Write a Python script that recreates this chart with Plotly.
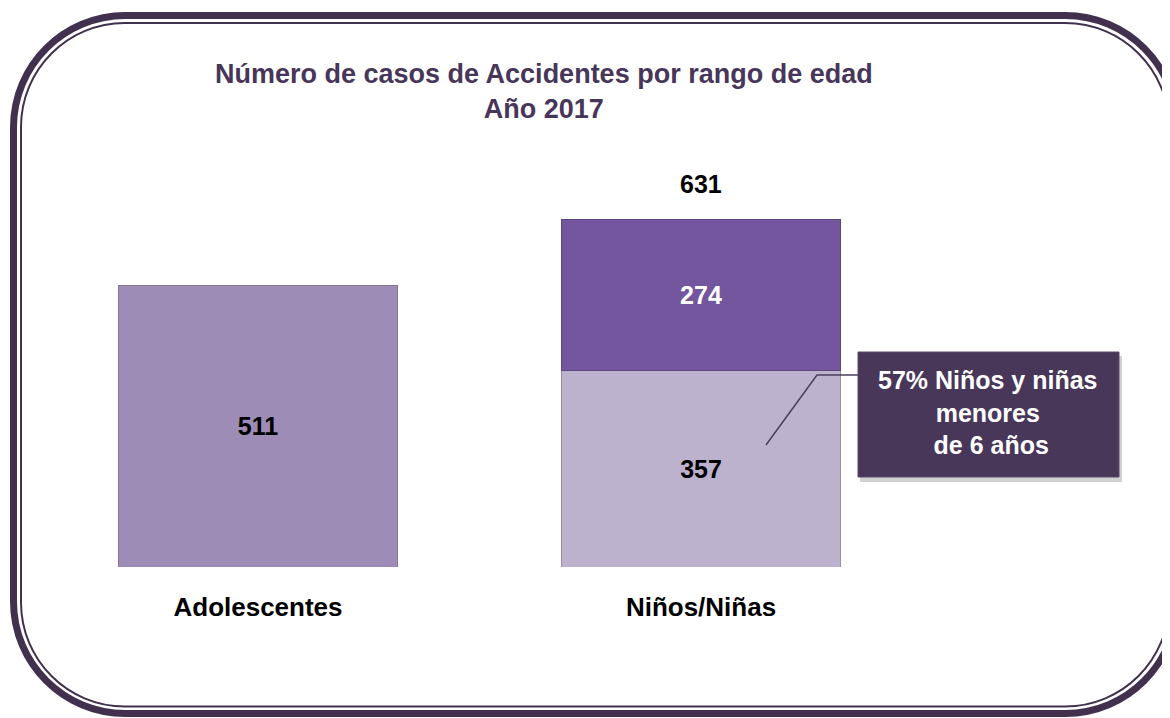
import plotly.graph_objects as go

W, H = 1170, 718
OFF = 8  # page body margin, figure is drawn 8px right/down

# data
categorias = ["Adolescentes", "Niños/Niñas"]
adolescentes = [511, None]
ninos_menores6 = [None, 357]
ninos_resto = [None, 274]
total_ninos = 631

titulo = ["Número de casos de Accidentes por rango de edad", "Año 2017"]
nota = ["57% Niños y niñas", "menores", " de 6 años"]

FONT = "Liberation Sans, Arial, sans-serif"
FRAME = "#41314f"


def px(x):
    return (x - OFF) / W


def py(y):
    return 1 - (y - OFF) / H


def rounded_rect(x0, y0, x1, y1, r):
    # rounded rectangle path in paper coords (pixel input)
    k = 0.5523 * r
    pts = [
        f"M {px(x0 + r)},{py(y0)}",
        f"L {px(x1 - r)},{py(y0)}",
        f"C {px(x1 - r + k)},{py(y0)} {px(x1)},{py(y0 + r - k)} {px(x1)},{py(y0 + r)}",
        f"L {px(x1)},{py(y1 - r)}",
        f"C {px(x1)},{py(y1 - r + k)} {px(x1 - r + k)},{py(y1)} {px(x1 - r)},{py(y1)}",
        f"L {px(x0 + r)},{py(y1)}",
        f"C {px(x0 + r - k)},{py(y1)} {px(x0)},{py(y1 - r + k)} {px(x0)},{py(y1 - r)}",
        f"L {px(x0)},{py(y0 + r)}",
        f"C {px(x0)},{py(y0 + r - k)} {px(x0 + r - k)},{py(y0)} {px(x0 + r)},{py(y0)}",
        "Z",
    ]
    return " ".join(pts)


fig = go.Figure()

fig.add_trace(go.Bar(
    x=categorias, y=adolescentes, name="Adolescentes",
    marker=dict(color="#9d8cb6", line=dict(color="#857598", width=1)),
    text=["511", ""], textposition="inside", insidetextanchor="middle",
    textfont=dict(color="black", size=25, family=FONT, weight="bold"),
))
fig.add_trace(go.Bar(
    x=categorias, y=ninos_menores6, name="Menores de 6",
    marker=dict(color="#bdb2cd", line=dict(color="#9a8eaa", width=1)),
    text=["", "357"], textposition="inside", insidetextanchor="middle",
    textfont=dict(color="black", size=25, family=FONT, weight="bold"),
))
fig.add_trace(go.Bar(
    x=categorias, y=ninos_resto, name="Resto",
    marker=dict(color="#73569d", line=dict(color="#5e4682", width=1)),
    text=["", "274"], textposition="inside", insidetextanchor="middle",
    textfont=dict(color="white", size=25, family=FONT, weight="bold"),
))

fig.add_annotation(
    x=categorias[1], y=total_ninos, text=str(total_ninos), showarrow=False,
    yanchor="middle", yshift=36,
    font=dict(color="black", size=25, family=FONT, weight="bold"),
)

# title, two lines in one block
fig.add_annotation(
    x=px(544), y=py(91), xref="paper", yref="paper", text="<br>".join(titulo),
    showarrow=False, xanchor="center", yanchor="middle", align="center",
    font=dict(color="#473659", size=27, family=FONT, weight="bold"),
)

shapes = []
# frame: thick outer + thin inner line
shapes.append(dict(type="path", xref="paper", yref="paper",
                   path=rounded_rect(13.5, 15.5, 1177, 713.5, 112),
                   line=dict(color=FRAME, width=7), layer="below"))
shapes.append(dict(type="path", xref="paper", yref="paper",
                   path=rounded_rect(21, 23, 1169, 706.5, 104),
                   line=dict(color=FRAME, width=2), layer="below"))

# leader line to callout
shapes.append(dict(type="path", xref="paper", yref="paper",
                   path=f"M {px(766)},{py(445)} L {px(817)},{py(375)} L {px(859)},{py(375)}",
                   line=dict(color="#4a3f5a", width=1.5)))
# callout box with shadow
shapes.append(dict(type="rect", xref="paper", yref="paper",
                   x0=px(860), x1=px(1122), y0=py(356), y1=py(482),
                   fillcolor="rgba(0,0,0,0.18)", line=dict(width=0)))
shapes.append(dict(type="rect", xref="paper", yref="paper",
                   x0=px(858), x1=px(1119), y0=py(352), y1=py(477),
                   fillcolor="#49375a", line=dict(color="#5a4a6a", width=1)))

fig.add_annotation(
    x=px(988), y=py(412), xref="paper", yref="paper", text="<br>".join(nota),
    showarrow=False, xanchor="center", yanchor="middle", align="center",
    font=dict(color="white", size=25, family=FONT, weight="bold"),
)

fig.update_layout(
    width=W, height=H,
    margin=dict(l=0, r=0, t=0, b=0),
    paper_bgcolor="white", plot_bgcolor="white",
    barmode="stack", bargap=0.372, showlegend=False,
    shapes=shapes,
    xaxis=dict(domain=[px(36.5), px(922.5)], range=[-0.5, 1.5],
               showgrid=False, zeroline=False, showline=False, ticks="",
               ticklabelstandoff=22,
               tickfont=dict(color="black", size=26, family=FONT, weight="bold")),
    yaxis=dict(domain=[py(567), py(182)], range=[0, 700],
               showgrid=False, zeroline=False, showline=False, showticklabels=False),
)

fig.write_html("out.html")
